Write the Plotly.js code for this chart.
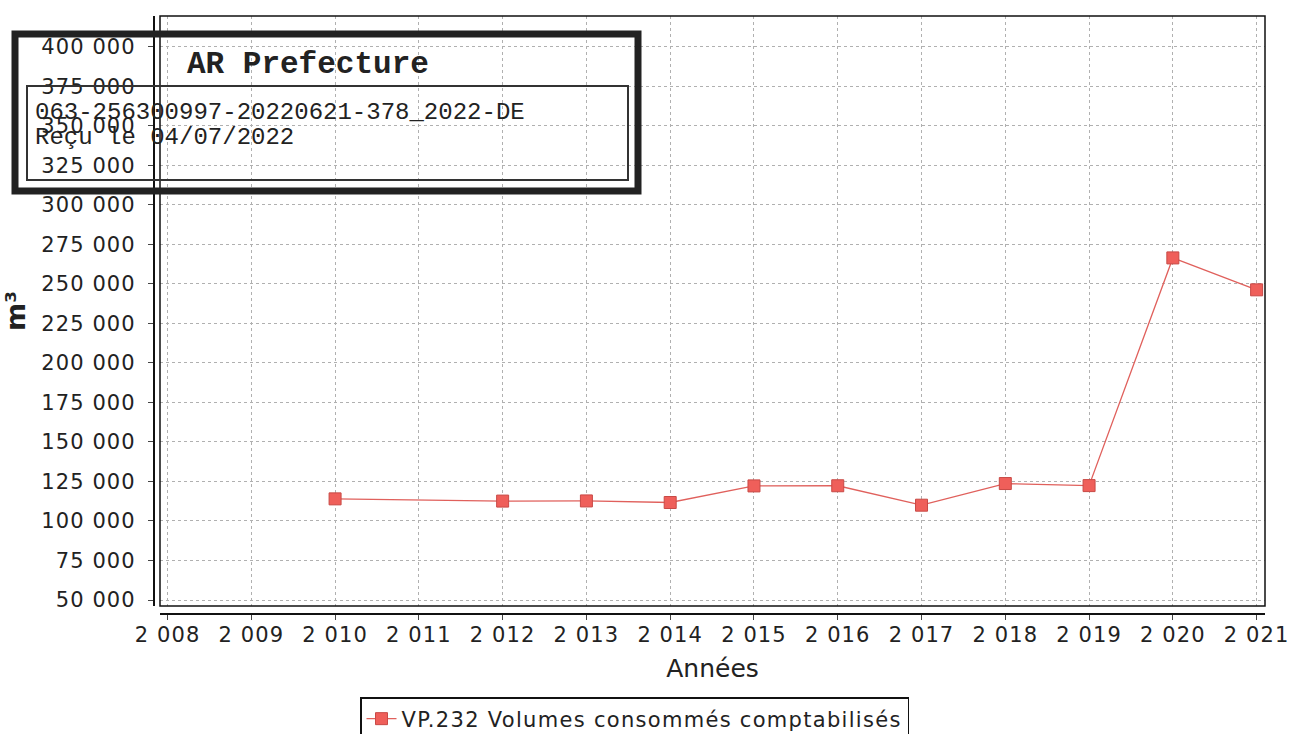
<!DOCTYPE html>
<html>
<head>
<meta charset="utf-8">
<script src="https://cdn.plot.ly/plotly-3.0.1.min.js"></script>
<style>
html,body{margin:0;padding:0;background:#fff;overflow:hidden;}
#chart{width:1289px;height:760px;}
.xtick text, .ytick text {letter-spacing: 1.1px;}
.legendtext {letter-spacing: 1.3px;}
</style>
</head>
<body>
<div id="chart"></div>
<script>
// ---- data ----
const years = [2010, 2012, 2013, 2014, 2015, 2016, 2017, 2018, 2019, 2020, 2021];
const volumes = [114000, 112600, 112700, 111700, 122200, 122300, 110000, 123700, 122400, 266500, 246300];
const seriesName = "VP.232 Volumes consommés comptabilisés";
const xTickVals = [2008, 2009, 2010, 2011, 2012, 2013, 2014, 2015, 2016, 2017, 2018, 2019, 2020, 2021];
const xTitle = "Années";
const yTitle = "m³";
const stampTitle = "AR Prefecture";
const stampLine1 = "063-256300997-20220621-378_2022-DE";
const stampLine2 = "Reçu le 04/07/2022";

// ---- layout geometry (pixels) ----
// canvas is a little taller than the 734px window so the legend box runs off the bottom edge as in the reference
const W = 1289, H = 760, L = 153, R = 1265, T = 16, B = 613;
const px = x => (x - L) / (R - L);
const py = y => (B - y) / (B - T);

const lineColor = '#e0605c';
const trace = {
  x: years, y: volumes, name: seriesName,
  type: 'scatter', mode: 'lines+markers',
  line: {color: lineColor, width: 1.3},
  marker: {symbol: 'square', size: 12, color: '#ef5f5a', line: {color: '#c84a46', width: 1}}
};

const layout = {
  width: W, height: H,
  margin: {l: L, r: W - R, t: T, b: H - B, pad: 0},
  paper_bgcolor: '#fff', plot_bgcolor: '#fff',
  separators: ', ',
  font: {family: 'DejaVu Sans, sans-serif', color: '#222', size: 21},
  showlegend: true,
  legend: {
    x: px(360), xanchor: 'left', y: py(697), yanchor: 'top',
    orientation: 'h', borderwidth: 1.5, bordercolor: '#111',
    font: {size: 21, color: '#222'}, itemwidth: 30, bgcolor: 'rgba(0,0,0,0)'
  },
  xaxis: {
    domain: [px(160), 1], range: [2007.91, 2021.1],
    anchor: 'free', position: 0, automargin: false,
    tickvals: xTickVals, separatethousands: true, exponentformat: 'none',
    ticks: 'outside', ticklen: 5, tickcolor: '#444', tickwidth: 1,
    ticklabelstandoff: -3, ticklabeloverflow: 'allow',
    showline: true, linecolor: '#111', linewidth: 1.5,
    showgrid: true, gridcolor: '#b0b0b0', griddash: 'dot', gridwidth: 1,
    zeroline: false,
    tickfont: {size: 21, color: '#222'},
    title: {text: xTitle, font: {size: 25, color: '#222'}, standoff: 14}
  },
  yaxis: {
    domain: [py(606), 1], range: [46200, 419600],
    anchor: 'free', position: 0, automargin: false,
    tick0: 0, dtick: 25000, separatethousands: true, exponentformat: 'none',
    ticks: 'outside', ticklen: 5, tickcolor: '#444', tickwidth: 1,
    ticklabelstandoff: 8, ticklabeloverflow: 'allow',
    showline: true, linecolor: '#111', linewidth: 1.5,
    showgrid: true, gridcolor: '#b0b0b0', griddash: 'dot', gridwidth: 1,
    zeroline: false,
    tickfont: {size: 21, color: '#222'},
    title: {text: '<b>' + yTitle + '</b>', font: {size: 27, color: '#222'}, standoff: 10}
  },
  shapes: [
    // plot frame
    {type: 'rect', xref: 'x domain', yref: 'y domain', x0: 0, x1: 1, y0: 0, y1: 1,
     line: {color: '#111', width: 1.5}, layer: 'above'},
    // stamp outer
    {type: 'rect', xref: 'paper', yref: 'paper', x0: px(15), x1: px(638), y0: py(34), y1: py(191),
     line: {color: '#222', width: 7}, layer: 'above'},
    // stamp inner
    {type: 'rect', xref: 'paper', yref: 'paper', x0: px(27), x1: px(628), y0: py(86), y1: py(180),
     line: {color: '#333', width: 2}, layer: 'above'}
  ],
  annotations: [
    {xref: 'paper', yref: 'paper', x: px(185), y: py(65), xanchor: 'left', yanchor: 'middle',
     text: '<b>' + stampTitle + '</b>', showarrow: false,
     font: {family: 'Liberation Mono, Courier New, monospace', size: 31, color: '#222'}},
    {xref: 'paper', yref: 'paper', x: px(33), y: py(112), xanchor: 'left', yanchor: 'middle',
     text: stampLine1, showarrow: false,
     font: {family: 'Liberation Mono, Courier New, monospace', size: 24, color: '#222'}},
    {xref: 'paper', yref: 'paper', x: px(33), y: py(137), xanchor: 'left', yanchor: 'middle',
     text: stampLine2, showarrow: false,
     font: {family: 'Liberation Mono, Courier New, monospace', size: 24, color: '#222'}}
  ]
};

Plotly.newPlot('chart', [trace], layout, {displayModeBar: false, staticPlot: true});
</script>
</body>
</html>
